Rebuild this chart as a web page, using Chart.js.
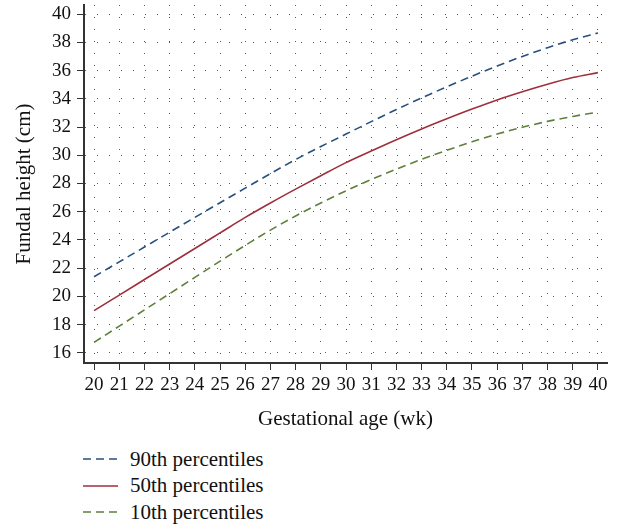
<!DOCTYPE html>
<html>
<head>
<meta charset="utf-8">
<script src="https://cdn.jsdelivr.net/npm/chart.js@4/dist/chart.umd.min.js"></script>
<style>
    body { margin: 0; background: #fff; }
    #wrap { position: relative; width: 617px; height: 440px; }
    #legend { position: absolute; left: 83px; top: 446px; font-family: 'Liberation Serif', 'DejaVu Serif', serif; font-size: 21px; color: #111; }
    #legend .row { height: 26.5px; display: flex; align-items: center; }
    #legend svg { width: 35px; height: 10px; margin-right: 12px; }
</style>
</head>
<body>
<div id="wrap"><canvas id="fundalChart"></canvas></div>
<div id="legend"></div>
<script>
const weeks = [20, 21, 22, 23, 24, 25, 26, 27, 28, 29, 30, 31, 32, 33, 34, 35, 36, 37, 38, 39, 40];
const p90 = [21.4, 22.45, 23.5, 24.55, 25.6, 26.64, 27.67, 28.7, 29.7, 30.62, 31.5, 32.38, 33.24, 34.06, 34.85, 35.6, 36.32, 37.0, 37.62, 38.18, 38.66];
const p50 = [19.0, 20.1, 21.2, 22.3, 23.4, 24.5, 25.6, 26.62, 27.6, 28.55, 29.48, 30.3, 31.1, 31.86, 32.58, 33.27, 33.92, 34.5, 35.03, 35.5, 35.85];
const p10 = [16.75, 17.9, 19.05, 20.2, 21.35, 22.5, 23.62, 24.7, 25.7, 26.62, 27.48, 28.28, 29.02, 29.71, 30.35, 30.95, 31.5, 31.98, 32.4, 32.75, 33.05];
const seriesNames = ['90th percentiles', '50th percentiles', '10th percentiles'];

const serif = 'Liberation Serif';
const toPoints = (vals) => weeks.map((w, i) => ({ x: w, y: vals[i] }));

const line = (label, vals, color, dash) => ({
    label,
    data: toPoints(vals),
    borderColor: color,
    backgroundColor: color,
    borderWidth: 1.6,
    borderDash: dash,
    pointRadius: 0,
    cubicInterpolationMode: 'monotone',
    fill: false,
});

const axisGrid = {
    color: '#5a5a5a',
    lineWidth: 1,
    tickLength: 7,
    tickColor: '#333',
    tickWidth: 1,
    tickBorderDash: [],
};

const chart = new Chart(document.getElementById('fundalChart'), {
    type: 'line',
    data: {
        datasets: [
            line(seriesNames[0], p90, '#27507d', [8, 5]),
            line(seriesNames[1], p50, '#9e2f3c', []),
            line(seriesNames[2], p10, '#5f7f3b', [8, 5]),
        ],
    },
    options: {
        responsive: true,
        maintainAspectRatio: false,
        animation: false,
        layout: { padding: { top: 5, right: 10, left: 0, bottom: 0 } },
        plugins: { legend: { display: false }, tooltip: { enabled: false } },
        scales: {
            x: {
                type: 'linear',
                min: 19.6,
                max: 40.36,
                grid: axisGrid,
                border: { color: '#333', width: 2, dash: [1, 11] },
                ticks: { stepSize: 1, includeBounds: false, padding: 4, color: '#111', font: { family: serif, size: 19 } },
                title: { display: true, text: 'Gestational age (wk)', color: '#111', padding: { top: 0, bottom: 8 }, font: { family: serif, size: 21 } },
                afterFit: (s) => { s.height = 77; s.paddingLeft = 0; s.paddingRight = 0; },
            },
            y: {
                min: 15.29,
                max: 40.64,
                grid: axisGrid,
                border: { color: '#333', width: 2, dash: [1, 11] },
                ticks: { stepSize: 2, includeBounds: false, padding: 6, color: '#111', font: { family: serif, size: 19 } },
                title: { display: true, text: 'Fundal height (cm)', color: '#111', padding: { top: 12, bottom: 0 }, font: { family: serif, size: 21 } },
                afterFit: (s) => { s.width = 84; s.paddingTop = 0; s.paddingBottom = 0; },
            },
        },
    },
});

// legend stacked under the chart, one row per series
const legendEl = document.getElementById('legend');
chart.data.datasets.forEach((ds) => {
    const row = document.createElement('div');
    row.className = 'row';
    const dash = ds.borderDash.length ? ds.borderDash.join(' ') : 'none';
    row.innerHTML = `<svg viewBox="0 0 35 10"><line x1="0" y1="5" x2="35" y2="5" stroke="${ds.borderColor}" stroke-width="1.6" stroke-dasharray="${dash}"/></svg><span>${ds.label}</span>`;
    legendEl.appendChild(row);
});
</script>
</body>
</html>
